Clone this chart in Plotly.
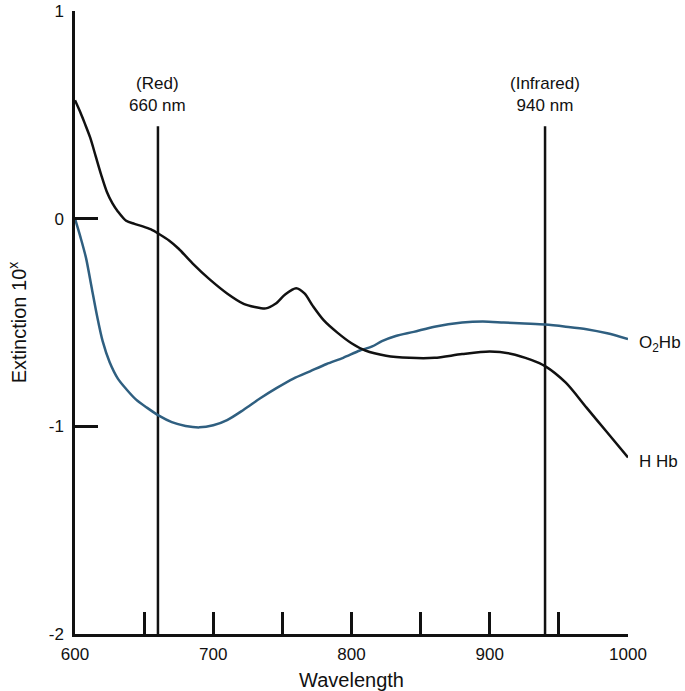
import plotly.graph_objects as go

# ---- data ----
hhb_x = [600, 604, 607, 611, 615, 619, 623, 627, 631, 637, 643, 649, 655, 661, 668, 675,
         685, 697, 710, 722, 730, 738, 745, 752, 760, 766, 772, 780, 790, 800, 810, 825,
         842, 860, 880, 900, 915, 930, 940, 955, 970, 985, 1000]
hhb_y = [0.57, 0.51, 0.46, 0.39, 0.30, 0.21, 0.13, 0.075, 0.035, -0.01, -0.025, -0.037, -0.052, -0.075, -0.105, -0.145,
         -0.215, -0.29, -0.36, -0.41, -0.425, -0.432, -0.41, -0.365, -0.335, -0.36, -0.42, -0.49, -0.55, -0.60, -0.635, -0.66,
         -0.67, -0.67, -0.652, -0.64, -0.65, -0.68, -0.71, -0.79, -0.91, -1.03, -1.15]

o2hb_x = [600, 604, 608, 612, 616, 620, 625, 631, 637, 644, 652, 661, 670, 680, 690, 700,
          710, 722, 734, 746, 758, 770, 782, 794, 806, 815, 822, 832, 845, 860, 880, 895,
          910, 925, 940, 955, 970, 985, 1000]
o2hb_y = [0.0, -0.09, -0.19, -0.33, -0.47, -0.59, -0.69, -0.77, -0.82, -0.87, -0.91, -0.95, -0.98, -0.998, -1.005, -0.995,
          -0.97, -0.92, -0.865, -0.815, -0.77, -0.735, -0.70, -0.67, -0.635, -0.615, -0.59, -0.565, -0.545, -0.52, -0.50, -0.495,
          -0.50, -0.505, -0.51, -0.52, -0.532, -0.552, -0.58]

marker_wl = [660, 940]
marker_labels = ["(Red)<br>660 nm", "(Infrared)<br>940 nm"]
marker_top = 0.445

x_tickvals = [600, 700, 800, 900, 1000]
x_ticktext = ["600", "700", "800", "900", "1000"]
x_minor_step = 50
y_tickvals = [-2, -1, 0, 1]
y_ticktext = ["-2", "-1", "0", "1"]

series_names = ["H Hb", "O<sub>2</sub>Hb"]

FONT = "Liberation Sans, Arial, Helvetica, sans-serif"
BLACK = "#111111"
BLUE = "#2f5f80"

X0, X1 = 600, 1000
Y0, Y1 = -2, 1

fig = go.Figure()

# vertical marker lines
for wl in marker_wl:
    fig.add_trace(go.Scatter(x=[wl, wl], y=[Y0, marker_top], mode="lines",
                             line=dict(color=BLACK, width=2.5), showlegend=False,
                             hoverinfo="skip"))

fig.add_trace(go.Scatter(x=o2hb_x, y=o2hb_y, mode="lines", name=series_names[1],
                         line=dict(color=BLUE, width=2.5, shape="spline", smoothing=0.8),
                         showlegend=False))
fig.add_trace(go.Scatter(x=hhb_x, y=hhb_y, mode="lines", name=series_names[0],
                         line=dict(color=BLACK, width=2.5, shape="spline", smoothing=0.8),
                         showlegend=False))

for wl, lab in zip(marker_wl, marker_labels):
    fig.add_annotation(x=wl, y=0.49, xref="x", yref="y", text=lab, showarrow=False,
                       xanchor="center", yanchor="bottom",
                       font=dict(family=FONT, size=17, color=BLACK))

# end-of-line series labels (paper coords so they are not hidden outside the x range)
def yfrac(v):
    return (v - Y0) / (Y1 - Y0)

fig.add_annotation(x=1.016, y=yfrac(o2hb_y[-1] - 0.025), xref="paper", yref="paper",
                   text=series_names[1], showarrow=False, xanchor="left", yanchor="middle",
                   font=dict(family=FONT, size=17, color=BLACK))
fig.add_annotation(x=1.016, y=yfrac(hhb_y[-1] - 0.02), xref="paper", yref="paper",
                   text=series_names[0], showarrow=False, xanchor="left", yanchor="middle",
                   font=dict(family=FONT, size=17, color=BLACK))

fig.update_layout(
    width=685, height=691,
    margin=dict(l=75, r=57, t=11, b=57, autoexpand=False),
    paper_bgcolor="white", plot_bgcolor="white",
    font=dict(family=FONT, size=17, color=BLACK),
    showlegend=False,
    xaxis=dict(range=[X0, X1], tickvals=x_tickvals, ticktext=x_ticktext,
               ticks="inside", ticklen=22, tickwidth=2.5, tickcolor=BLACK,
               minor=dict(ticks="inside", ticklen=22, tickwidth=2.5, tickcolor=BLACK,
                          dtick=x_minor_step, tick0=X0, showgrid=False),
               showline=True, linewidth=2.5, linecolor=BLACK, showgrid=False,
               zeroline=False, automargin=False, ticklabelstandoff=3,
               title=dict(text="Wavelength", standoff=16),
               tickfont=dict(size=17)),
    yaxis=dict(range=[Y0, Y1], tickvals=y_tickvals, ticktext=y_ticktext,
               ticks="inside", ticklen=23, tickwidth=2.5, tickcolor=BLACK,
               showline=True, linewidth=2.5, linecolor=BLACK, showgrid=False,
               zeroline=False, automargin=False, ticklabelstandoff=5,
               title=dict(text="Extinction 10<sup>x</sup>", standoff=17),
               tickfont=dict(size=17)),
)

# remove the page's default 8px body margin so the figure sits at the window origin
fig.write_html("out.html",
               config={"displayModeBar": False},
               post_script="document.body.style.margin='0px'; document.body.style.overflow='hidden';")
